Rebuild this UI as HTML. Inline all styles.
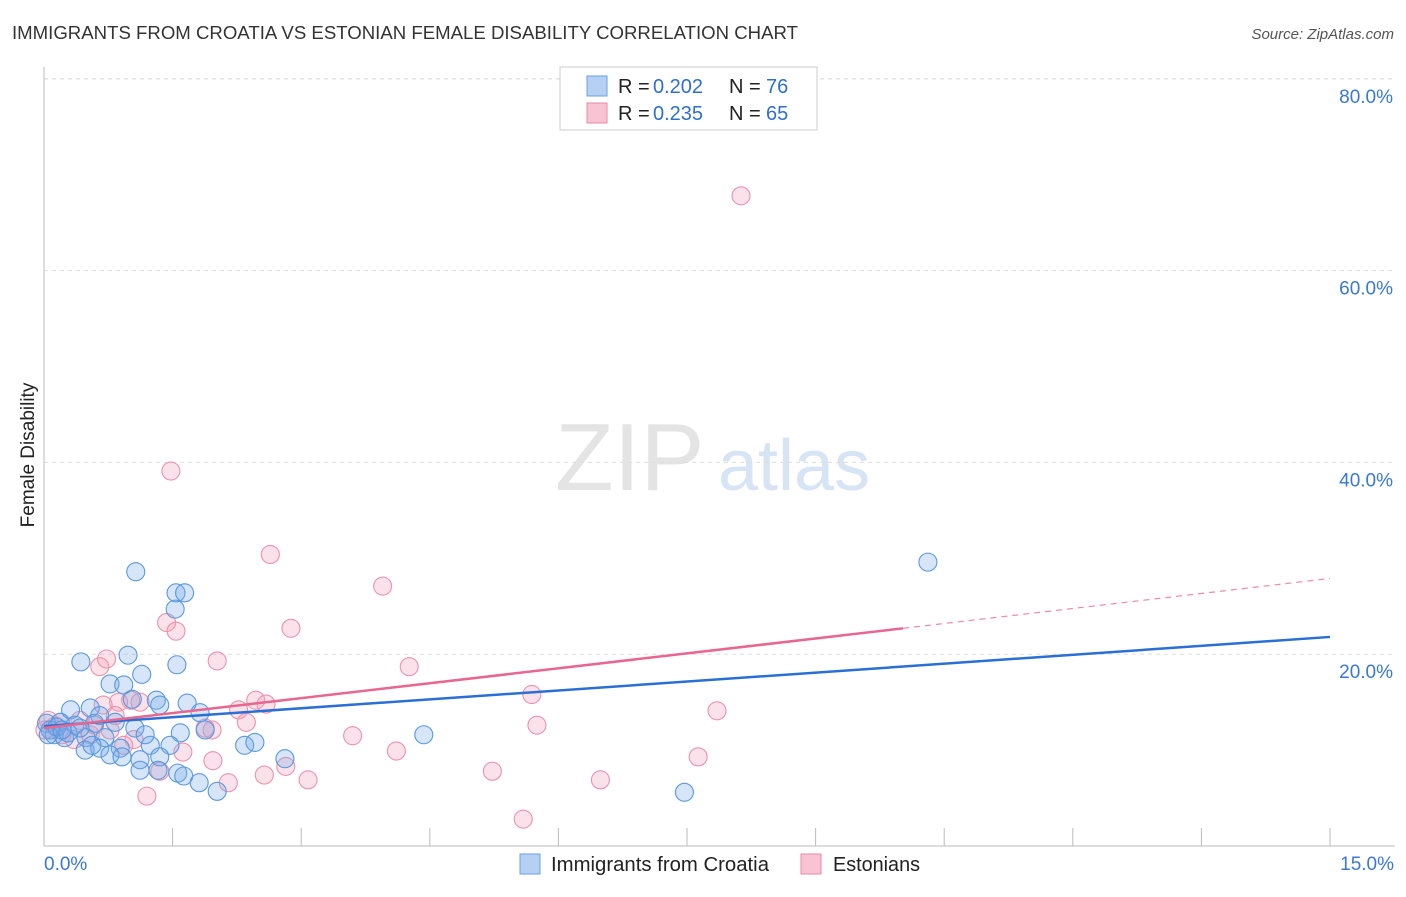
<!DOCTYPE html>
<html><head><meta charset="utf-8"><style>
body{margin:0;background:#fff;font-family:"Liberation Sans",sans-serif;}
svg text{font-family:"Liberation Sans",sans-serif;}
</style></head><body>
<svg width="1406" height="892">
<text x="12" y="39" font-size="18" fill="#333" textLength="786" lengthAdjust="spacingAndGlyphs">IMMIGRANTS FROM CROATIA VS ESTONIAN FEMALE DISABILITY CORRELATION CHART</text>
<text x="1394" y="39" font-size="15" fill="#555" font-style="italic" text-anchor="end">Source: ZipAtlas.com</text>
<text x="555" y="490" font-size="96" fill="#e4e4e4" font-family="Liberation Serif">ZIP</text>
<text x="718" y="490" font-size="72" fill="#d6e4f4">atlas</text>
<text transform="translate(34,455) rotate(-90)" font-size="19" fill="#222" text-anchor="middle">Female Disability</text>
<g id="grid"></g><g id="axes"></g><g id="pts"></g><g id="lines"></g>
<g>
<rect x="560" y="67" width="257" height="63" fill="#fff" stroke="#ccc"/>
<rect x="587" y="76" width="20" height="20" fill="#b5d0f3" stroke="#6a9fe0"/>
<rect x="587" y="103" width="20" height="20" fill="#f8c3d2" stroke="#e88aa5"/>
<text x="618" y="93" font-size="20" fill="#222">R =</text>
<text x="653" y="93" font-size="20" fill="#2f6fd0">0.202</text>
<text x="729" y="93" font-size="20" fill="#222">N =</text>
<text x="766" y="93" font-size="20" fill="#2f6fd0">76</text>
<text x="618" y="120" font-size="20" fill="#222">R =</text>
<text x="653" y="120" font-size="20" fill="#2f6fd0">0.235</text>
<text x="729" y="120" font-size="20" fill="#222">N =</text>
<text x="766" y="120" font-size="20" fill="#2f6fd0">65</text>
</g>
<g>
<rect x="520" y="854" width="20" height="20" fill="#b5d0f3" stroke="#6a9fe0"/>
<text x="551" y="871" font-size="20" fill="#222" textLength="218" lengthAdjust="spacingAndGlyphs">Immigrants from Croatia</text>
<rect x="801" y="854" width="20" height="20" fill="#f8c3d2" stroke="#e88aa5"/>
<text x="833" y="871" font-size="20" fill="#222" textLength="87" lengthAdjust="spacingAndGlyphs">Estonians</text>
</g>
</svg>
<script>
const yTicks=[20,40,60,80];
const xTickLabels=["0.0%","15.0%"];
const blueX=[1.07,1.54,1.64,1.53,0.43,0.98,1.55,1.14,0.77,0.93,1.31,1.67,1.03,0.54,0.31,0.65,1.82,0.03,0.19,0.36,0.59,0.83,1.06,1.35,1.59,1.88,4.43,0.12,0.24,0.49,0.71,0.89,1.24,1.47,2.34,2.46,2.81,0.48,0.65,0.77,0.91,1.12,1.35,1.12,1.33,1.56,1.63,1.81,2.02,7.47,10.31,0.07,0.15,0.28,0.05,0.21,0.42,0.56,1.18];
const blueY=[28.6,26.4,26.4,24.7,19.2,19.9,18.9,17.9,16.9,16.8,15.2,14.9,15.3,14.4,14.2,13.6,13.9,12.8,12.9,12.6,12.8,12.9,12.3,14.7,11.8,12.1,11.6,11.6,11.3,11.3,11.3,10.2,10.5,10.5,10.5,10.8,9.1,10.0,10.2,9.5,9.3,9.0,9.3,7.9,7.9,7.6,7.3,6.6,5.7,5.6,29.6,12.1,12.4,11.8,11.6,12.1,12.3,10.5,11.6];
const pinkX=[8.13,1.48,2.64,3.95,2.88,1.43,1.54,2.02,4.26,0.65,0.73,5.69,7.85,2.47,2.59,2.27,1.01,0.87,1.12,0.69,1.88,1.96,2.36,5.75,3.60,4.11,7.63,6.49,5.23,3.08,2.57,2.82,2.15,1.97,1.62,1.20,5.59,1.35,1.05,0.77,0.59,0.42,0.13,0.01,0.21,0.35,0.54,0.93,0.83,0.19,0.05];
const pinkY=[67.8,39.1,30.4,27.1,22.7,23.3,22.4,19.3,18.7,18.7,19.5,15.8,14.1,15.2,14.8,14.2,15.2,15.0,15.0,14.7,12.3,12.1,12.9,12.6,11.5,9.9,9.3,6.9,7.8,6.9,7.4,8.3,6.6,8.9,9.8,5.2,2.8,7.8,11.1,12.1,12.6,13.1,12.5,12.1,11.6,11.1,11.6,10.5,13.6,12.9,13.1];
const blueTrend=[12.5,21.8];
const pinkTrend=[12.3,22.7,27.9];
const pinkSolidEnd=10.02;
const NS="http://www.w3.org/2000/svg";
const X=v=>44+v*(1286/15), Y=v=>846-v*9.59;
function mk(t,a,p){const e=document.createElementNS(NS,t);for(const k in a)e.setAttribute(k,a[k]);p.appendChild(e);return e;}
const grid=document.getElementById('grid'),axes=document.getElementById('axes');
yTicks.forEach(t=>{
 const l=mk('line',{x1:44,x2:1395,y1:Y(t),y2:Y(t),stroke:'#ddd','stroke-dasharray':'4,4'},grid);
 
 
 const tx=mk('text',{x:1393,y:Y(t)+24,'font-size':19,fill:'#3a78d4','text-anchor':'end'},grid);tx.textContent=t.toFixed(1)+'%';
 
 
});
mk('line',{x1:44,x2:1395,y1:79,y2:79,stroke:'#ddd','stroke-dasharray':'4,4'},grid);
mk('line',{x1:44,x2:44,y1:67,y2:846,stroke:'#bbb'},axes);
mk('line',{x1:44,x2:1395,y1:846,y2:846,stroke:'#bbb'},axes);
for(let i=0;i<=10;i++){const x=X(i*1.5);mk('line',{x1:x,x2:x,y1:828,y2:846,stroke:'#bbb'},axes);}
const xl0=mk('text',{x:44,y:870,'font-size':19,fill:'#3a78d4'},axes);xl0.textContent=xTickLabels[0];


const xl1=mk('text',{x:1394,y:870,'font-size':19,fill:'#3a78d4','text-anchor':'end'},axes);xl1.textContent=xTickLabels[1];


const pts=document.getElementById('pts');
pinkX.forEach((v,i)=>{const c=mk('circle',{cx:X(v),cy:Y(pinkY[i]),r:9,fill:'rgba(242,160,184,0.3)',stroke:'#ec92ad','stroke-width':1.1},pts);
 
 });
blueX.forEach((v,i)=>{const c=mk('circle',{cx:X(v),cy:Y(blueY[i]),r:9,fill:'rgba(120,170,232,0.3)',stroke:'#5a98e0','stroke-width':1.1},pts);
 
 });
const lines=document.getElementById('lines');
const bl=mk('line',{x1:X(0),y1:Y(blueTrend[0]),x2:X(15),y2:Y(blueTrend[1]),stroke:'#2a6fd4','stroke-width':2.5},lines);


const pl=mk('line',{x1:X(0),y1:Y(pinkTrend[0]),x2:X(pinkSolidEnd),y2:Y(pinkTrend[1]),stroke:'#e8668f','stroke-width':2.5},lines);


const pd=mk('line',{x1:X(pinkSolidEnd),y1:Y(pinkTrend[1]),x2:X(15),y2:Y(pinkTrend[2]),stroke:'#ec8aa8','stroke-width':1.2,'stroke-dasharray':'6,5'},lines);


</script>
</body></html>
